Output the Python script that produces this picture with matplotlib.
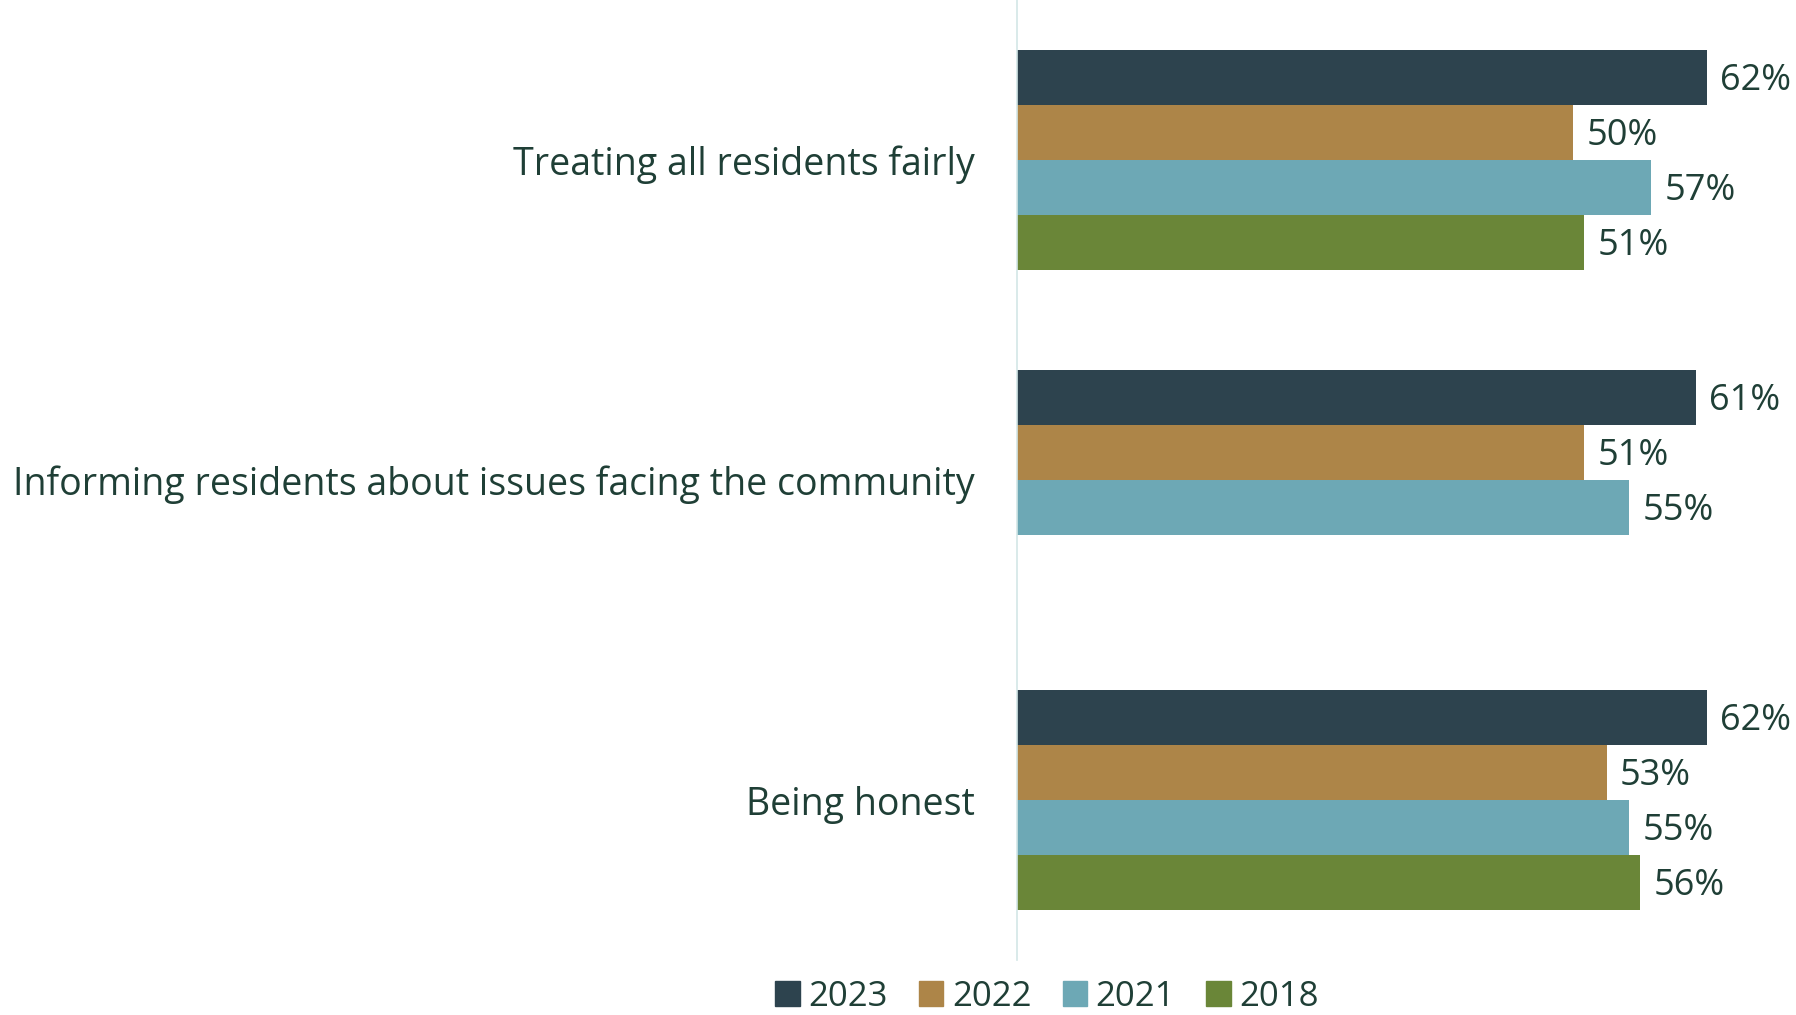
import numpy as np
import matplotlib.pyplot as plt
from matplotlib.patches import Patch

plt.rcParams['font.family'] = ['Open Sans', 'DejaVu Sans']

# survey items, top to bottom
categories = ["Treating all residents fairly",
              "Informing residents about issues facing the community",
              "Being honest"]
years = ["2023", "2022", "2021", "2018"]
values = {
    "2023": [62, 61, 62],
    "2022": [50, 51, 53],
    "2021": [57, 55, 55],
    "2018": [51, None, 56],
}
colors = {"2023": "#2d434e", "2022": "#ad8548", "2021": "#6da8b5", "2018": "#6a8638"}
text_color = "#1f3f36"

fig = plt.figure(figsize=(17.96, 10.15), dpi=100)
ax = fig.add_axes([0.566, 0.054, 0.434, 0.946])

bar_h = 0.172
y = np.arange(len(categories))
for i, yr in enumerate(years):
    offs = (i - 1.5) * bar_h
    for j, v in enumerate(values[yr]):
        if v is None:
            continue
        ax.barh(y[j] + offs, v, height=bar_h, color=colors[yr])
        ax.text(v + 1.2, y[j] + offs + 0.01, f"{v}%", va="center", ha="left",
                fontsize=26, color=text_color)

ax.set_xlim(0, 70)
ax.set_ylim(2.5, -0.5)
ax.set_yticks(y)
ax.set_yticklabels(categories, fontsize=27, color=text_color)
ax.tick_params(axis="y", length=0, pad=30)
ax.set_xticks([])
for s in ["top", "right", "bottom"]:
    ax.spines[s].set_visible(False)
ax.spines["left"].set_color("#d3e6e6")
ax.spines["left"].set_linewidth(1.2)

handles = [Patch(color=colors[yr]) for yr in years]
fig.legend(handles, years, loc="center", bbox_to_anchor=(0.583, 0.018), ncol=4,
           frameon=False, fontsize=25, handlelength=0.7, handleheight=0.7,
           handletextpad=0.25, columnspacing=0.9, labelcolor=text_color,
           borderpad=0.1)

fig.savefig("out.png", dpi=100)
